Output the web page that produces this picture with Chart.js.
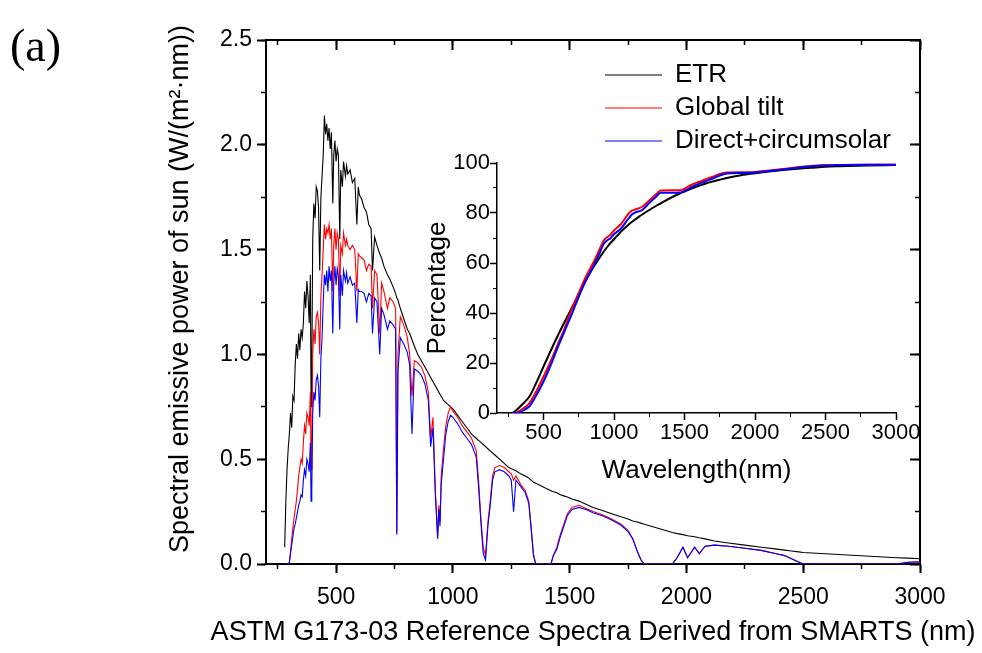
<!DOCTYPE html>
<html>
<head>
<meta charset="utf-8">
<title>Solar spectrum</title>
<script src="https://cdn.jsdelivr.net/npm/chart.js@4.4.1/dist/chart.umd.min.js"></script>
<style>
  html, body { margin: 0; padding: 0; background: #fff; }
  #wrap { position: relative; width: 982px; height: 653px; }
  #mainChart { position: absolute; left: 0; top: 0; }
  #insetChart { position: absolute; left: 405px; top: 145px; }
</style>
</head>
<body>
<div id="wrap">
  <canvas id="mainChart" width="982" height="653"></canvas>
  <canvas id="insetChart" width="530" height="350"></canvas>
</div>
<script>
// main panel: spectral power, W/(m2 nm)
const wavelength = [
  280, 285, 290, 295, 300, 305, 310, 315, 320, 325,
  330, 335, 340, 345, 350, 355, 360, 365, 370, 375,
  380, 385, 390, 393, 396, 400, 405, 410, 415, 420,
  425, 430, 435, 440, 445, 450, 455, 460, 465, 470,
  475, 480, 486, 490, 495, 500, 505, 510, 516, 520,
  527, 532, 540, 545, 550, 560, 570, 580, 589, 595,
  600, 610, 620, 630, 640, 650, 656, 665, 675, 687,
  695, 705, 720, 730, 745, 755, 760, 765, 775, 790,
  805, 815, 825, 835, 850, 865, 880, 895, 905, 915,
  925, 935, 940, 945, 950, 960, 970, 980, 990, 1000,
  1020, 1040, 1060, 1080, 1100, 1110, 1120, 1130, 1140, 1150,
  1160, 1170, 1180, 1200, 1220, 1240, 1250, 1260, 1270, 1290,
  1310, 1325, 1335, 1345, 1355, 1400, 1420, 1430, 1445, 1460,
  1475, 1490, 1510, 1540, 1570, 1600, 1640, 1680, 1720, 1750,
  1770, 1790, 1805, 1820, 1940, 1960, 1985, 2005, 2035, 2055,
  2080, 2120, 2180, 2250, 2320, 2380, 2420, 2450, 2480, 2500,
  2900, 2950, 3000
];

const etr = [
  0.08, 0.30, 0.45, 0.55, 0.62, 0.72, 0.65, 0.80, 0.78, 0.95,
  1.05, 0.98, 1.10, 1.02, 1.12, 1.08, 1.15, 1.30, 1.22, 1.35,
  1.28, 1.15, 1.38, 0.75, 0.90, 1.55, 1.72, 1.65, 1.80, 1.78,
  1.70, 1.40, 1.75, 1.85, 1.95, 2.14, 2.05, 2.10, 2.02, 2.08,
  1.98, 2.06, 1.72, 1.95, 2.02, 1.92, 1.98, 1.95, 1.55, 1.88,
  1.80, 1.92, 1.85, 1.90, 1.86, 1.88, 1.82, 1.84, 1.62, 1.80,
  1.76, 1.74, 1.70, 1.68, 1.62, 1.60, 1.40, 1.56, 1.52, 1.48,
  1.46, 1.42, 1.38, 1.36, 1.32, 1.29, 1.27, 1.26, 1.22, 1.17,
  1.12, 1.10, 1.07, 1.04, 1.00, 0.97, 0.94, 0.91, 0.89, 0.87,
  0.85, 0.83, 0.82, 0.81, 0.80, 0.78, 0.77, 0.76, 0.75, 0.74,
  0.71, 0.68, 0.65, 0.62, 0.60, 0.59, 0.58, 0.57, 0.56, 0.55,
  0.54, 0.53, 0.52, 0.50, 0.48, 0.46, 0.455, 0.45, 0.445, 0.43,
  0.42, 0.41, 0.40, 0.39, 0.385, 0.36, 0.35, 0.345, 0.34, 0.33,
  0.325, 0.32, 0.31, 0.30, 0.285, 0.27, 0.255, 0.24, 0.225, 0.215,
  0.205, 0.20, 0.195, 0.19, 0.15, 0.145, 0.14, 0.135, 0.13, 0.125,
  0.12, 0.11, 0.10, 0.09, 0.08, 0.072, 0.066, 0.062, 0.058, 0.055,
  0.03, 0.028, 0.025
];

const globalTilt = [
  0, 0, 0, 0, 0.01, 0.06, 0.12, 0.17, 0.22, 0.26,
  0.30, 0.36, 0.42, 0.46, 0.50, 0.48, 0.58, 0.66, 0.62, 0.72,
  0.70, 0.66, 0.82, 0.45, 0.55, 1.00, 1.12, 1.05, 1.18, 1.20,
  1.15, 1.00, 1.28, 1.38, 1.50, 1.62, 1.55, 1.60, 1.58, 1.62,
  1.55, 1.60, 1.30, 1.52, 1.60, 1.50, 1.58, 1.55, 1.28, 1.52,
  1.48, 1.58, 1.52, 1.55, 1.52, 1.50, 1.52, 1.50, 1.30, 1.48,
  1.47, 1.46, 1.45, 1.40, 1.43, 1.42, 1.22, 1.40, 1.38, 1.10,
  1.34, 1.30, 1.22, 1.27, 1.25, 1.22, 0.15, 1.00, 1.18, 1.14,
  1.08, 1.00, 0.80, 0.97, 0.96, 0.94, 0.90, 0.82, 0.60, 0.70,
  0.35, 0.13, 0.28, 0.20, 0.42, 0.55, 0.66, 0.72, 0.75, 0.73,
  0.70, 0.66, 0.63, 0.60, 0.54, 0.40, 0.22, 0.08, 0.04, 0.20,
  0.30, 0.42, 0.46, 0.47, 0.46, 0.44, 0.43, 0.40, 0.42, 0.38,
  0.35, 0.30, 0.18, 0.05, 0, 0, 0, 0.04, 0.08, 0.14,
  0.19, 0.24, 0.27, 0.28, 0.265, 0.25, 0.235, 0.215, 0.19, 0.16,
  0.12, 0.06, 0.02, 0, 0, 0.03, 0.08, 0.03, 0.08, 0.05,
  0.085, 0.09, 0.085, 0.075, 0.065, 0.05, 0.04, 0.025, 0.01, 0,
  0, 0.008, 0.01
];

const directCircum = [
  0, 0, 0, 0, 0.005, 0.05, 0.09, 0.13, 0.17, 0.19,
  0.22, 0.25, 0.28, 0.30, 0.33, 0.32, 0.40, 0.45, 0.42, 0.50,
  0.48, 0.44, 0.58, 0.30, 0.35, 0.72, 0.82, 0.78, 0.88, 0.90,
  0.85, 0.70, 0.98, 1.08, 1.25, 1.38, 1.33, 1.40, 1.30, 1.42,
  1.35, 1.40, 1.10, 1.34, 1.42, 1.33, 1.41, 1.37, 1.12, 1.38,
  1.28, 1.40, 1.35, 1.39, 1.34, 1.37, 1.33, 1.34, 1.15, 1.31,
  1.30, 1.30, 1.29, 1.25, 1.29, 1.28, 1.10, 1.27, 1.25, 1.00,
  1.22, 1.19, 1.12, 1.16, 1.14, 1.12, 0.14, 0.92, 1.08, 1.05,
  1.01, 0.95, 0.62, 0.93, 0.92, 0.90, 0.86, 0.78, 0.56, 0.65,
  0.33, 0.12, 0.26, 0.18, 0.38, 0.50, 0.62, 0.68, 0.71, 0.70,
  0.67, 0.63, 0.60, 0.57, 0.51, 0.37, 0.20, 0.05, 0.02, 0.18,
  0.28, 0.40, 0.44, 0.45, 0.44, 0.42, 0.40, 0.25, 0.40, 0.37,
  0.34, 0.29, 0.17, 0.04, 0, 0, 0, 0.04, 0.07, 0.13,
  0.18, 0.23, 0.26, 0.27, 0.26, 0.245, 0.23, 0.21, 0.185, 0.155,
  0.12, 0.06, 0.02, 0, 0, 0.03, 0.08, 0.03, 0.08, 0.05,
  0.085, 0.09, 0.085, 0.075, 0.065, 0.05, 0.04, 0.025, 0.01, 0,
  0, 0.008, 0.01
];

const xMajorTicks = [500, 1000, 1500, 2000, 2500, 3000];
const xMinorTicks = [250, 500, 750, 1000, 1250, 1500, 1750, 2000, 2250, 2500, 2750, 3000];
const yMajorTicks = [0, 0.5, 1.0, 1.5, 2.0, 2.5];
const yMinorTicks = [0, 0.25, 0.5, 0.75, 1.0, 1.25, 1.5, 1.75, 2.0, 2.25, 2.5];

// inset: cumulative share of the energy, %
const insetWavelength = [
  280, 300, 320, 350, 400, 450, 500, 550, 600, 650,
  700, 750, 800, 850, 900, 925, 950, 975, 1000, 1050,
  1100, 1125, 1150, 1200, 1250, 1300, 1330, 1400, 1470, 1500,
  1550, 1600, 1650, 1700, 1750, 1800, 1900, 2000, 2100, 2200,
  2300, 2400, 2500, 2600, 2800, 3000
];
const etrPct = [
  0, 0.8, 1.8, 3.5, 6.6, 12.3, 18.6, 24.8, 30.8, 36.5,
  42, 47.6, 53, 58, 62.3, 64.4, 66.3, 68, 69.5, 72.6,
  75.2, 76.4, 77.4, 79.4, 81.2, 82.9, 83.8, 86, 87.9, 88.6,
  89.8, 90.8, 91.8, 92.6, 93.3, 94, 95.1, 95.9, 96.6, 97.2,
  97.7, 98.1, 98.5, 98.7, 99, 99.2
];
const globalPct = [
  0, 0, 0.5, 1.6, 4, 8.8, 14.6, 20.6, 27.3, 34,
  41.5, 48, 54.5, 59.8, 65.8, 68.8, 70.3, 71.3, 73, 75.6,
  79.5, 80.9, 81.4, 82.5, 85, 87.6, 89, 89.1, 89.1, 89.7,
  91.3, 92.4, 93.5, 94.5, 95.6, 96.2, 96.3, 96.4, 97, 97.6,
  98.3, 98.8, 99.1, 99.2, 99.3, 99.3
];
const directPct = [
  0, 0, 0, 0.8, 2.7, 7.2, 12.6, 19, 26.2, 32.8,
  39.5, 46.5, 53, 58.2, 64.2, 67.5, 69, 69.9, 71.5, 73.8,
  77.6, 79.3, 80.2, 81.2, 84, 86.6, 88.1, 88.1, 88.2, 88.8,
  90.3, 91.6, 92.7, 93.8, 95, 95.8, 96, 96.2, 96.8, 97.4,
  98.1, 98.7, 99, 99.2, 99.3, 99.3
];

const insetXTicks = [500, 1000, 1500, 2000, 2500, 3000];
const insetXMinor = [250, 500, 750, 1000, 1250, 1500, 1750, 2000, 2250, 2500, 2750, 3000];
const insetYTicks = [0, 20, 40, 60, 80, 100];
const insetYMinor = [0, 10, 20, 30, 40, 50, 60, 70, 80, 90, 100];

const panelLabel = "(a)";
const xTitle = "ASTM G173-03 Reference Spectra Derived from SMARTS (nm)";
const yTitle = "Spectral emissive power of sun (W/(m\u00B2\u00B7nm))";

const FONT = "'Liberation Sans', Arial, sans-serif";
Chart.defaults.font.family = FONT;
Chart.defaults.color = "#000";

function useTicks(values) {
  return scale => { scale.ticks = values.map(v => ({ value: v })); };
}

const plain = v => String(v);

function series(label, xs, ys, color, width, order) {
  return {
    label: label,
    data: xs.map((x, i) => ({ x: x, y: ys[i] })),
    borderColor: color,
    backgroundColor: color,
    borderWidth: width,
    pointRadius: 0,
    tension: 0,
    order: order,
    xAxisID: "x",
    yAxisID: "y"
  };
}

// tick-mark-only axis pinned to a value of the other axis
function markAxis(axis, pos, min, max, values, len, border, width) {
  return {
    type: "linear",
    axis: axis,
    position: pos,
    min: min,
    max: max,
    afterBuildTicks: useTicks(values),
    ticks: { display: false },
    grid: { drawOnChartArea: false, drawTicks: true, tickLength: len, tickColor: "#000", tickWidth: width },
    border: { display: border, color: "#000", width: 2 }
  };
}

const figureText = {
  id: "figureText",
  afterDraw(chart) {
    const ctx = chart.ctx;
    const a = chart.chartArea;
    ctx.save();
    ctx.fillStyle = "#000";
    ctx.font = "46px 'Liberation Serif', 'Times New Roman', serif";
    ctx.textAlign = "left";
    ctx.textBaseline = "alphabetic";
    ctx.fillText(panelLabel, 10, 61);

    ctx.font = "27px " + FONT;
    ctx.textAlign = "center";
    ctx.textBaseline = "middle";
    ctx.fillText(xTitle, (a.left + a.right) / 2, 633);

    ctx.translate(181, 289);
    ctx.rotate(-Math.PI / 2);
    ctx.fillText(yTitle, 0, 0);
    ctx.restore();
  }
};

// put the legend in the upper right of the plot
const legendSpot = {
  id: "legendSpot",
  afterLayout(chart) {
    const lg = chart.legend;
    if (!lg) return;
    lg.left = 598;
    lg.top = 55;
    lg.bottom = 300;
  }
};

new Chart(document.getElementById("mainChart"), {
  type: "line",
  data: {
    datasets: [
      series("ETR", wavelength, etr, "#000000", 1.1, 2),
      series("Global tilt", wavelength, globalTilt, "#ff0000", 1.1, 1),
      series("Direct+circumsolar", wavelength, directCircum, "#0000ff", 1.1, 0)
    ]
  },
  options: {
    responsive: false,
    animation: false,
    devicePixelRatio: 1,
    events: [],
    layout: { padding: { top: 40, right: 62, left: 0, bottom: 0 } },
    plugins: {
      tooltip: { enabled: false },
      legend: {
        position: "chartArea",
        align: "start",
        labels: {
          usePointStyle: true,
          pointStyle: "line",
          pointStyleWidth: 57,
          padding: 7,
          color: "#000",
          font: { size: 26 },
          sort: (a, b) => a.datasetIndex - b.datasetIndex
        }
      }
    },
    scales: {
      x: {
        type: "linear",
        position: "bottom",
        min: 200,
        max: 3000,
        afterBuildTicks: useTicks(xMajorTicks),
        afterFit: s => { s.height = 89; },
        ticks: { font: { size: 23 }, padding: 11, maxRotation: 0, autoSkip: false, callback: plain },
        grid: { drawOnChartArea: false, tickLength: 9, tickWidth: 2, tickColor: "#000" },
        border: { color: "#000", width: 2 }
      },
      y: {
        type: "linear",
        position: "left",
        min: 0,
        max: 2.5,
        afterBuildTicks: useTicks(yMajorTicks),
        afterFit: s => { s.width = 266; },
        ticks: { font: { size: 23 }, padding: 5, callback: v => v.toFixed(1) },
        grid: { drawOnChartArea: false, tickLength: 9, tickWidth: 2, tickColor: "#000" },
        border: { color: "#000", width: 2 }
      },
      xMinor: markAxis("x", { y: 0 }, 200, 3000, xMinorTicks, 5, false, 1.5),
      xTop: markAxis("x", { y: 2.5 }, 200, 3000, xMajorTicks, 9, true, 2),
      xTopMinor: markAxis("x", { y: 2.5 }, 200, 3000, xMinorTicks, 5, false, 1.5),
      yMinor: markAxis("y", { x: 200 }, 0, 2.5, yMinorTicks, 5, false, 1.5),
      yRight: markAxis("y", { x: 3000 }, 0, 2.5, yMajorTicks, 9, true, 2),
      yRightMinor: markAxis("y", { x: 3000 }, 0, 2.5, yMinorTicks, 5, false, 1.5)
    }
  },
  plugins: [figureText, legendSpot]
});

function insetLine(label, ys, color, order) {
  const ds = series(label, insetWavelength, ys, color, 2, order);
  ds.cubicInterpolationMode = "monotone";
  return ds;
}

new Chart(document.getElementById("insetChart"), {
  type: "line",
  data: {
    datasets: [
      insetLine("ETR", etrPct, "#000000", 2),
      insetLine("Global tilt", globalPct, "#ff0000", 1),
      insetLine("Direct+circumsolar", directPct, "#0000ff", 0)
    ]
  },
  options: {
    responsive: false,
    animation: false,
    devicePixelRatio: 1,
    events: [],
    layout: { padding: { top: 18, right: 39, left: 0, bottom: 0 } },
    plugins: { legend: { display: false }, tooltip: { enabled: false } },
    scales: {
      x: {
        type: "linear",
        position: "bottom",
        min: 170,
        max: 3000,
        afterBuildTicks: useTicks(insetXTicks),
        afterFit: s => { s.height = 82; },
        ticks: { font: { size: 22 }, padding: 0, maxRotation: 0, autoSkip: false, callback: plain },
        grid: { drawOnChartArea: false, tickLength: 7, tickWidth: 1.5, tickColor: "#000" },
        border: { color: "#000", width: 1.5 },
        title: { display: true, text: "Wavelength(nm)", font: { size: 26 }, padding: { top: 0, bottom: 9 } }
      },
      y: {
        type: "linear",
        position: "left",
        min: 0,
        max: 100,
        afterBuildTicks: useTicks(insetYTicks),
        afterFit: s => { s.width = 92; },
        ticks: { font: { size: 22 }, padding: 0, callback: plain },
        grid: { drawOnChartArea: false, tickLength: 7, tickWidth: 1.5, tickColor: "#000" },
        border: { color: "#000", width: 1.5 },
        title: { display: true, text: "Percentage", font: { size: 26 }, padding: { top: 17, bottom: 0 } }
      },
      xMinor: markAxis("x", { y: 0 }, 170, 3000, insetXMinor, 4, false, 1),
      yMinor: markAxis("y", { x: 170 }, 0, 100, insetYMinor, 4, false, 1)
    }
  }
});
</script>
</body>
</html>
